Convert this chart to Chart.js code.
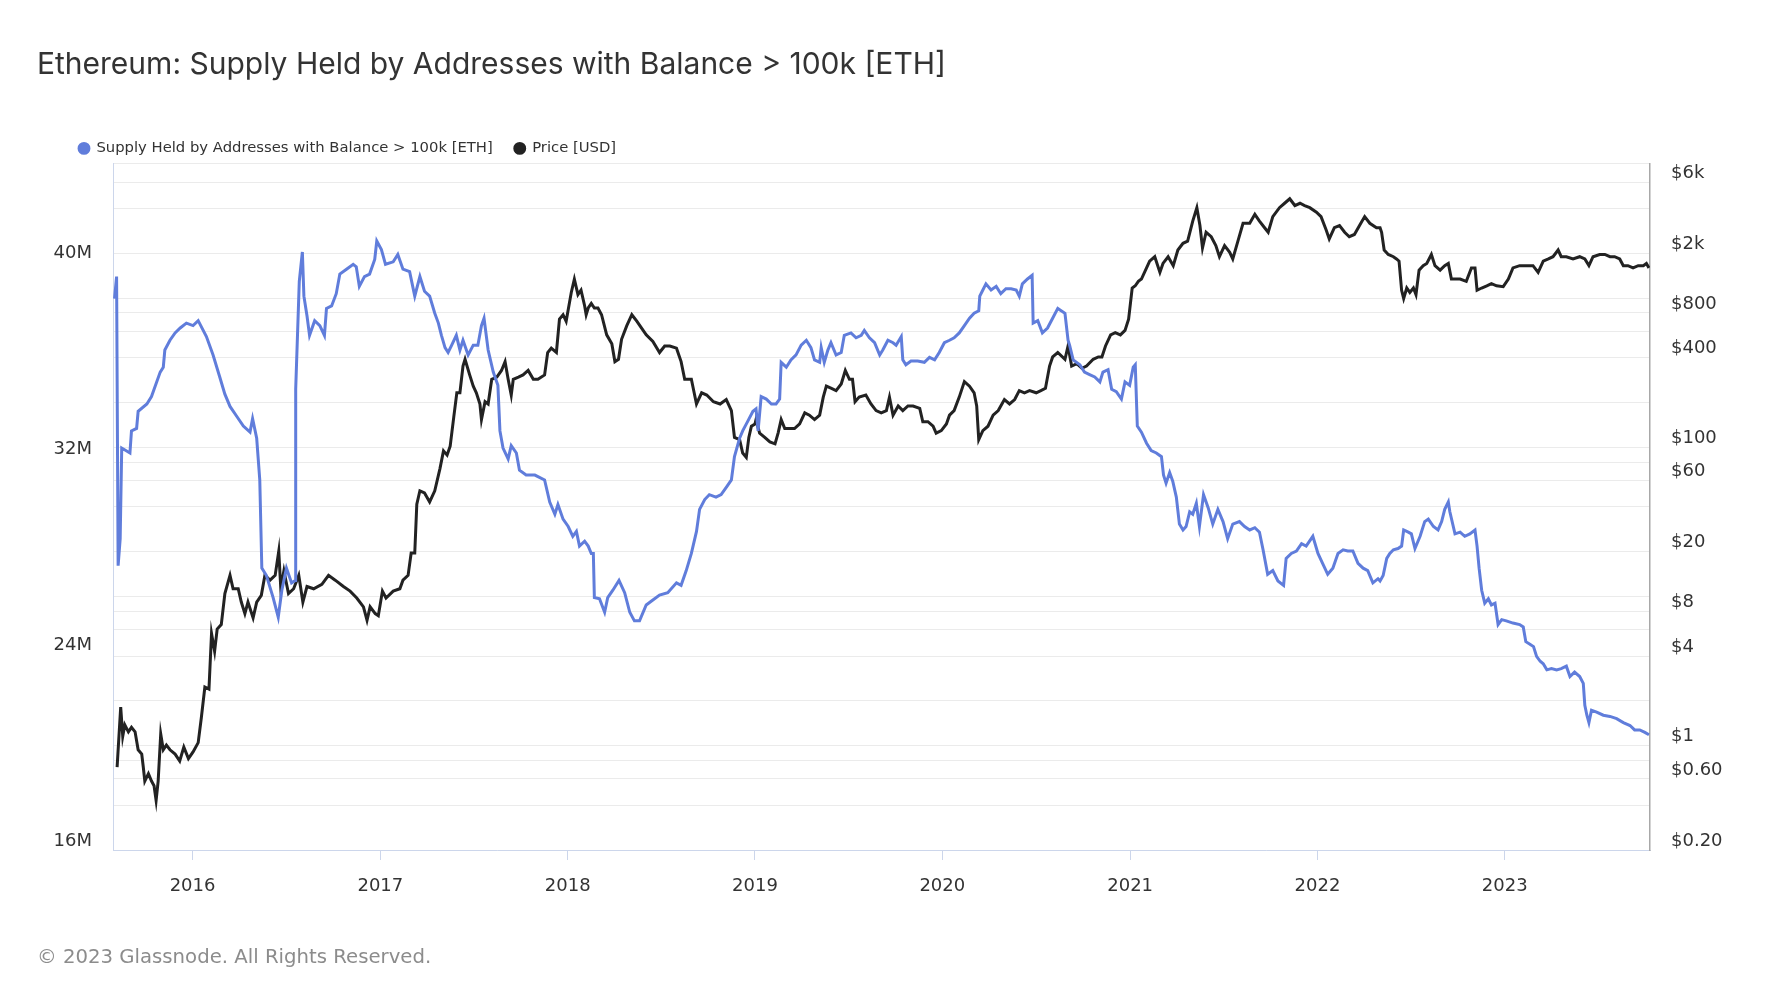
<!DOCTYPE html>
<html>
<head>
<meta charset="utf-8">
<title>Ethereum: Supply Held by Addresses with Balance > 100k [ETH]</title>
<script src="https://cdn.jsdelivr.net/npm/chart.js@4.4.0/dist/chart.umd.min.js"></script>
<style>
  html, body { margin: 0; padding: 0; background: #fff; }
  #wrap { position: relative; width: 1777px; height: 1000px; overflow: hidden; }
  #chart { position: absolute; left: 0; top: 0; }
  #title {
    position: absolute; left: 37px; top: 45px; line-height: 36px;
    font-family: Inter, "Noto Sans", sans-serif; font-size: 30px; color: #333;
    white-space: nowrap;
  }
  #footer {
    position: absolute; left: 37px; top: 945px; line-height: 24px;
    font-family: "DejaVu Sans", sans-serif; font-size: 19.7px; color: #8c8c8c;
    white-space: nowrap;
  }
</style>
</head>
<body>
<div id="wrap">
  <canvas id="chart" width="1777" height="1000"></canvas>
  <div id="title">Ethereum: Supply Held by Addresses with Balance &gt; 100k [ETH]</div>
  <div id="footer">© 2023 Glassnode. All Rights Reserved.</div>
</div>
<script>
// Supply held by addresses with balance > 100k ETH, in millions of ETH
const supplyDates = [
  '2015-08-02','2015-08-06','2015-08-09','2015-08-13','2015-08-16','2015-09-01','2015-09-04','2015-09-14','2015-09-17','2015-10-04',
  '2015-10-13','2015-10-30','2015-11-05','2015-11-08','2015-11-18','2015-11-28','2015-12-08','2015-12-20','2016-01-02','2016-01-12',
  '2016-01-28','2016-02-10','2016-02-23','2016-03-04','2016-03-14','2016-03-27','2016-04-09','2016-04-22','2016-04-27','2016-05-05',
  '2016-05-11','2016-05-15','2016-05-24','2016-06-06','2016-06-16','2016-06-23','2016-07-02','2016-07-12','2016-07-19','2016-07-20',
  '2016-07-27','2016-08-02','2016-08-05','2016-08-11','2016-08-16','2016-08-26','2016-09-05','2016-09-14','2016-09-18','2016-09-28',
  '2016-10-07','2016-10-14','2016-10-27','2016-11-09','2016-11-15','2016-11-21','2016-12-01','2016-12-11','2016-12-21','2016-12-25',
  '2017-01-03','2017-01-11','2017-01-26','2017-02-04','2017-02-14','2017-02-27','2017-03-09','2017-03-19','2017-03-28','2017-04-07',
  '2017-04-17','2017-04-24','2017-04-30','2017-05-07','2017-05-13','2017-05-20','2017-05-29','2017-06-05','2017-06-11','2017-06-21',
  '2017-07-01','2017-07-10','2017-07-17','2017-07-22','2017-07-30','2017-08-09','2017-08-18','2017-08-22','2017-08-28','2017-09-07',
  '2017-09-13','2017-09-23','2017-09-29','2017-10-12','2017-10-29','2017-11-17','2017-11-27','2017-12-07','2017-12-13','2017-12-23',
  '2018-01-02','2018-01-11','2018-01-18','2018-01-24','2018-02-03','2018-02-10','2018-02-16','2018-02-20','2018-02-22','2018-03-04',
  '2018-03-14','2018-03-20','2018-03-30','2018-04-11','2018-04-22','2018-05-02','2018-05-11','2018-05-21','2018-06-03','2018-06-16',
  '2018-06-29','2018-07-15','2018-08-01','2018-08-10','2018-08-20','2018-08-30','2018-09-09','2018-09-15','2018-09-25','2018-10-04',
  '2018-10-17','2018-10-27','2018-11-06','2018-11-16','2018-11-22','2018-12-02','2018-12-08','2018-12-18','2018-12-28','2019-01-03',
  '2019-01-07','2019-01-13','2019-01-23','2019-02-02','2019-02-11','2019-02-18','2019-02-21','2019-03-03','2019-03-12','2019-03-22',
  '2019-04-01','2019-04-11','2019-04-20','2019-04-27','2019-05-07','2019-05-10','2019-05-16','2019-05-23','2019-05-29','2019-06-08',
  '2019-06-18','2019-06-24','2019-07-07','2019-07-17','2019-07-27','2019-08-02','2019-08-12','2019-08-22','2019-09-01','2019-09-07',
  '2019-09-17','2019-09-27','2019-10-03','2019-10-13','2019-10-16','2019-10-22','2019-11-01','2019-11-14','2019-11-27','2019-12-07',
  '2019-12-17','2019-12-26','2020-01-05','2020-01-15','2020-01-24','2020-02-03','2020-02-13','2020-02-23','2020-03-03','2020-03-12',
  '2020-03-14','2020-03-20','2020-03-26','2020-04-05','2020-04-15','2020-04-24','2020-05-04','2020-05-14','2020-05-24','2020-05-30',
  '2020-06-05','2020-06-15','2020-06-24','2020-06-26','2020-07-05','2020-07-14','2020-07-24','2020-08-03','2020-08-13','2020-08-27',
  '2020-09-02','2020-09-05','2020-09-12','2020-09-25','2020-10-04','2020-10-14','2020-10-24','2020-11-03','2020-11-09','2020-11-19',
  '2020-11-26','2020-12-05','2020-12-15','2020-12-22','2020-12-31','2021-01-07','2021-01-11','2021-01-15','2021-01-23','2021-02-02',
  '2021-02-11','2021-02-21','2021-03-03','2021-03-07','2021-03-12','2021-03-19','2021-03-25','2021-04-01','2021-04-07','2021-04-14',
  '2021-04-20','2021-04-27','2021-05-03','2021-05-10','2021-05-16','2021-05-24','2021-06-02','2021-06-11','2021-06-21','2021-07-01',
  '2021-07-10','2021-07-20','2021-08-02','2021-08-12','2021-08-22','2021-09-01','2021-09-10','2021-09-17','2021-09-26','2021-10-06',
  '2021-10-16','2021-10-27','2021-11-01','2021-11-11','2021-11-21','2021-12-01','2021-12-10','2021-12-23','2022-01-02','2022-01-11',
  '2022-01-21','2022-01-31','2022-02-10','2022-02-20','2022-03-01','2022-03-11','2022-03-21','2022-03-31','2022-04-09','2022-04-19',
  '2022-04-29','2022-05-03','2022-05-09','2022-05-16','2022-05-22','2022-05-29','2022-06-07','2022-06-14','2022-06-18','2022-06-27',
  '2022-07-03','2022-07-10','2022-07-20','2022-07-29','2022-08-05','2022-08-15','2022-08-24','2022-08-31','2022-09-06','2022-09-13',
  '2022-09-16','2022-09-26','2022-10-06','2022-10-15','2022-10-25','2022-11-04','2022-11-08','2022-11-12','2022-11-17','2022-11-23',
  '2022-11-30','2022-12-06','2022-12-13','2022-12-19','2022-12-26','2023-01-04','2023-01-17','2023-01-30','2023-02-06','2023-02-11',
  '2023-02-19','2023-02-26','2023-03-04','2023-03-11','2023-03-17','2023-03-24','2023-04-02','2023-04-12','2023-04-21','2023-05-01',
  '2023-05-08','2023-05-17','2023-05-27','2023-06-03','2023-06-06','2023-06-10','2023-06-14','2023-06-19','2023-06-29','2023-07-12',
  '2023-07-25','2023-08-07','2023-08-20','2023-09-02','2023-09-11','2023-09-21','2023-10-01','2023-10-09'
];
const supplyValues = [
  38.5,39.4,27.6,28.7,32.4,32.2,33.1,33.2,33.9,34.2,
  34.5,35.5,35.7,36.4,36.8,37.1,37.3,37.5,37.4,37.6,
  36.95,36.2,35.3,34.6,34.1,33.7,33.3,33.05,33.6,32.8,
  31.1,27.5,27.2,26.3,25.5,26.6,27.5,26.9,27.0,34.8,
  39.2,40.4,38.6,37.8,37.0,37.6,37.4,37.0,38.1,38.2,
  38.7,39.5,39.7,39.9,39.8,39.0,39.4,39.5,40.1,40.85,
  40.5,39.9,40.0,40.3,39.7,39.6,38.6,39.4,38.8,38.6,
  37.9,37.5,37.0,36.5,36.3,36.6,37.0,36.4,36.8,36.2,
  36.6,36.6,37.4,37.7,36.4,35.5,34.96,33.1,32.4,31.96,
  32.5,32.2,31.5,31.3,31.3,31.1,30.2,29.7,30.1,29.5,
  29.2,28.8,29.0,28.4,28.6,28.4,28.1,28.1,26.3,26.25,
  25.7,26.3,26.6,27.0,26.5,25.7,25.35,25.35,26.0,26.2,
  26.4,26.5,26.9,26.8,27.4,28.1,29.0,29.9,30.3,30.5,
  30.4,30.5,30.8,31.1,32.05,32.8,33.1,33.5,33.9,34.0,
  33.1,34.5,34.4,34.2,34.2,34.4,35.9,35.7,36.0,36.2,
  36.6,36.8,36.5,36.0,35.9,36.5,35.9,36.4,36.7,36.2,
  36.3,37.0,37.1,36.9,37.0,37.2,36.9,36.7,36.2,36.4,
  36.8,36.7,36.6,36.95,36.0,35.8,35.95,35.95,35.9,36.1,
  36.0,36.3,36.7,36.8,36.9,37.1,37.4,37.7,37.9,38.0,
  38.6,38.85,39.1,38.85,39.0,38.7,38.9,38.9,38.85,38.6,
  39.1,39.3,39.45,37.5,37.6,37.1,37.3,37.7,38.1,37.9,
  36.8,36.6,36.0,35.8,35.5,35.4,35.3,35.1,35.5,35.6,
  34.8,34.7,34.4,35.1,34.96,35.7,35.8,33.3,33.05,32.6,
  32.3,32.2,32.05,31.3,30.97,31.4,31.05,30.4,29.3,29.06,
  29.2,29.8,29.7,30.15,29.2,30.5,29.97,29.3,29.9,29.4,
  28.7,29.3,29.4,29.2,29.06,29.15,28.97,28.25,27.25,27.4,
  26.98,26.8,27.9,28.1,28.2,28.5,28.4,28.8,28.1,27.7,
  27.25,27.5,28.1,28.25,28.2,28.2,27.7,27.5,27.4,26.9,
  27.07,26.98,27.2,27.9,28.1,28.25,28.3,28.4,29.06,28.97,
  28.9,28.3,28.8,29.4,29.5,29.2,29.06,29.4,29.9,30.2,
  29.8,28.9,28.97,28.8,28.9,29.06,28.4,27.5,26.6,26.07,
  26.25,26.0,26.07,25.2,25.4,25.35,25.26,25.2,25.1,24.5,
  24.4,24.3,23.9,23.7,23.6,23.35,23.4,23.35,23.4,23.5,
  23.08,23.26,23.08,22.8,21.9,21.5,21.2,21.7,21.63,21.5,
  21.45,21.36,21.2,21.08,20.9,20.9,20.8,20.7
];

// ETH price in USD
const priceDates = [
  '2015-08-07','2015-08-14','2015-08-18','2015-08-22','2015-08-29','2015-09-04','2015-09-11','2015-09-17','2015-09-24','2015-09-27',
  '2015-09-30','2015-10-07','2015-10-13','2015-10-18','2015-10-22','2015-10-26','2015-10-31','2015-11-05','2015-11-11','2015-11-18',
  '2015-11-28','2015-12-07','2015-12-15','2015-12-24','2016-01-02','2016-01-12','2016-01-18','2016-01-25','2016-02-02','2016-02-07',
  '2016-02-13','2016-02-18','2016-02-26','2016-03-04','2016-03-14','2016-03-20','2016-03-30','2016-04-05','2016-04-12','2016-04-18',
  '2016-04-28','2016-05-05','2016-05-14','2016-05-21','2016-05-31','2016-06-10','2016-06-17','2016-06-21','2016-06-27','2016-07-06',
  '2016-07-16','2016-07-26','2016-08-03','2016-08-11','2016-08-24','2016-09-09','2016-09-22','2016-10-05','2016-10-21','2016-11-03',
  '2016-11-16','2016-11-29','2016-12-06','2016-12-12','2016-12-22','2016-12-28','2017-01-05','2017-01-12','2017-01-26','2017-02-08',
  '2017-02-14','2017-02-24','2017-03-02','2017-03-09','2017-03-13','2017-03-19','2017-03-28','2017-04-07','2017-04-17','2017-04-27',
  '2017-05-04','2017-05-11','2017-05-17','2017-05-24','2017-05-30','2017-06-05','2017-06-11','2017-06-15','2017-06-24','2017-07-01',
  '2017-07-07','2017-07-14','2017-07-17','2017-07-24','2017-07-30','2017-08-06','2017-08-16','2017-08-25','2017-09-01','2017-09-07',
  '2017-09-13','2017-09-17','2017-09-27','2017-10-06','2017-10-16','2017-10-26','2017-11-04','2017-11-17','2017-11-23','2017-11-30',
  '2017-12-10','2017-12-16','2017-12-23','2017-12-29','2018-01-08','2018-01-14','2018-01-21','2018-01-27','2018-02-03','2018-02-06',
  '2018-02-10','2018-02-16','2018-02-22','2018-03-01','2018-03-08','2018-03-18','2018-03-28','2018-04-03','2018-04-10','2018-04-16',
  '2018-04-26','2018-05-06','2018-05-16','2018-05-25','2018-06-03','2018-06-16','2018-06-29','2018-07-09','2018-07-19','2018-08-01',
  '2018-08-10','2018-08-17','2018-08-30','2018-09-09','2018-09-19','2018-09-29','2018-10-12','2018-10-25','2018-11-06','2018-11-16',
  '2018-11-22','2018-12-02','2018-12-08','2018-12-15','2018-12-20','2018-12-25','2019-01-01','2019-01-03','2019-01-10','2019-01-20',
  '2019-01-30','2019-02-09','2019-02-15','2019-02-21','2019-02-28','2019-03-09','2019-03-19','2019-03-29','2019-04-08','2019-04-17',
  '2019-04-27','2019-05-07','2019-05-14','2019-05-20','2019-05-29','2019-06-08','2019-06-18','2019-06-26','2019-07-04','2019-07-10',
  '2019-07-15','2019-07-23','2019-08-05','2019-08-15','2019-08-25','2019-09-04','2019-09-14','2019-09-20','2019-09-27','2019-10-07',
  '2019-10-16','2019-10-26','2019-11-05','2019-11-18','2019-11-24','2019-12-04','2019-12-14','2019-12-20','2019-12-30','2020-01-09',
  '2020-01-15','2020-01-24','2020-02-03','2020-02-13','2020-02-23','2020-03-03','2020-03-08','2020-03-12','2020-03-20','2020-03-30',
  '2020-04-09','2020-04-19','2020-05-01','2020-05-11','2020-05-21','2020-05-30','2020-06-09','2020-06-19','2020-07-02','2020-07-11',
  '2020-07-20','2020-07-28','2020-08-03','2020-08-13','2020-08-27','2020-09-02','2020-09-09','2020-09-19','2020-09-29','2020-10-08',
  '2020-10-21','2020-10-31','2020-11-07','2020-11-14','2020-11-24','2020-12-03','2020-12-13','2020-12-22','2020-12-29','2021-01-05',
  '2021-01-11','2021-01-17','2021-01-23','2021-02-02','2021-02-08','2021-02-18','2021-02-28','2021-03-06','2021-03-16','2021-03-26',
  '2021-04-04','2021-04-14','2021-04-23','2021-05-03','2021-05-11','2021-05-17','2021-05-22','2021-05-29','2021-06-08','2021-06-17',
  '2021-06-24','2021-07-04','2021-07-14','2021-07-20','2021-07-30','2021-08-09','2021-08-22','2021-09-01','2021-09-10','2021-09-20',
  '2021-09-27','2021-10-06','2021-10-19','2021-10-29','2021-11-08','2021-11-18','2021-11-28','2021-12-07','2021-12-17','2021-12-30',
  '2022-01-08','2022-01-18','2022-01-24','2022-02-03','2022-02-13','2022-02-23','2022-03-04','2022-03-14','2022-03-24','2022-04-03',
  '2022-04-13','2022-04-26','2022-05-03','2022-05-06','2022-05-11','2022-05-19','2022-05-29','2022-06-04','2022-06-09','2022-06-14',
  '2022-06-18','2022-06-24','2022-06-30','2022-07-07','2022-07-12','2022-07-18','2022-07-26','2022-08-02','2022-08-11','2022-08-18',
  '2022-08-28','2022-09-06','2022-09-13','2022-09-19','2022-09-26','2022-10-06','2022-10-18','2022-10-28','2022-11-04','2022-11-08',
  '2022-11-17','2022-11-27','2022-12-06','2022-12-16','2022-12-29','2023-01-08','2023-01-17','2023-01-30','2023-02-12','2023-02-25',
  '2023-03-07','2023-03-17','2023-03-27','2023-04-05','2023-04-15','2023-04-21','2023-05-01','2023-05-14','2023-05-27','2023-06-06',
  '2023-06-14','2023-06-22','2023-07-05','2023-07-15','2023-07-25','2023-08-03','2023-08-13','2023-08-20','2023-08-29','2023-09-08',
  '2023-09-18','2023-09-28','2023-10-04','2023-10-09'
];
const priceValues = [
  0.72,1.82,1.16,1.38,1.24,1.33,1.24,0.94,0.88,0.72,
  0.58,0.65,0.58,0.54,0.43,0.58,1.2,0.94,1.01,0.94,
  0.88,0.79,0.98,0.82,0.91,1.05,1.53,2.48,2.4,5.66,
  4.3,6.06,6.5,10.5,13.9,11.3,11.3,9.2,7.7,9.2,
  7.2,9.2,10.2,13.9,12.9,13.9,20.2,11.3,14.9,10.5,
  11.3,13.9,9.2,11.7,11.3,12.1,13.9,12.9,11.7,10.9,
  9.8,8.55,6.95,8.55,7.7,7.45,10.9,9.8,10.9,11.3,
  12.9,13.9,19.6,19.6,41.7,51.3,49.6,43.2,51.3,72,
  95,89,102,160,233,233,352,391,307,258,
  233,196,154,203,196,287,297,329,377,287,
  225,287,297,307,329,287,287,307,434,464,
  434,727,778,702,1097,1349,1060,1135,893,778,
  863,925,863,863,778,570,497,377,391,532,
  655,778,702,632,570,514,434,480,480,464,
  377,287,287,196,233,225,203,196,210,177,
  117,113,92,86,117,139,144,154,125,117,
  109,106,125,154,134,134,134,144,171,165,
  154,165,218,258,250,241,267,329,287,287,
  203,218,225,196,177,171,177,218,165,190,
  177,190,190,183,149,149,139,125,130,144,
  165,177,218,277,258,233,190,113,130,139,
  165,177,210,196,210,241,233,241,233,241,
  250,352,405,434,391,480,352,365,340,352,
  391,405,405,480,570,590,570,611,727,1175,
  1216,1303,1349,1603,1778,1905,1496,1718,1905,1660,
  2113,2344,2423,3304,4062,3084,2185,2780,2594,2260,
  1905,2260,2037,1840,2423,3193,3193,3665,3304,2980,
  2780,3540,4062,4350,4660,4200,4350,4200,4062,3793,
  3540,2877,2506,2980,3084,2780,2594,2685,3084,3540,
  3193,2980,2980,2780,2113,1972,1905,1840,1778,1135,
  1000,1175,1097,1175,1060,1549,1660,1718,1972,1660,
  1549,1660,1718,1349,1349,1349,1303,1603,1603,1135,
  1175,1216,1259,1216,1200,1349,1603,1660,1660,1660,
  1496,1778,1840,1905,2113,1905,1905,1840,1905,1840,
  1660,1905,1972,1972,1905,1905,1840,1660,1660,1603,
  1660,1660,1718,1603
];

// axis ticks
const yearTicks = [2016, 2017, 2018, 2019, 2020, 2021, 2022, 2023];
const supplyTicks = [16, 24, 32, 40];
const priceGrid = [0.2, 0.4, 0.6, 0.8, 1, 2, 4, 6, 8, 10, 20, 40, 60, 80, 100, 200, 400, 600, 800, 1000, 2000, 4000, 6000, 8000];
const priceLabelled = [0.2, 0.6, 1, 4, 8, 20, 60, 100, 400, 800, 2000, 6000];

const xMin = Date.UTC(2015, 6, 30);
const xMax = Date.UTC(2023, 9, 11);

function toPoints(dates, values) {
  return dates.map((d, i) => ({ x: Date.parse(d), y: values[i] }));
}

function priceLabel(v) {
  if (!priceLabelled.includes(v)) return '';
  if (v >= 1000) return '$' + (v / 1000) + 'k';
  if (v >= 1) return '$' + v;
  return '$' + v.toFixed(2);
}

// move the legend so it sits where the reference puts it
const legendShift = {
  id: 'legendShift',
  afterLayout(chart) {
    if (chart.legend) {
      chart.legend.left = 57;
      chart.legend.top += 2;
    }
  }
};

Chart.defaults.font.family = '"DejaVu Sans", sans-serif';
Chart.defaults.color = '#333';

const ctx = document.getElementById('chart').getContext('2d');
new Chart(ctx, {
  type: 'line',
  data: {
    datasets: [
      {
        label: 'Supply Held by Addresses with Balance > 100k [ETH]',
        data: toPoints(supplyDates, supplyValues),
        yAxisID: 'ySupply',
        borderColor: 'rgb(96, 125, 219)',
        backgroundColor: 'rgb(96, 125, 219)',
        borderWidth: 3,
        pointRadius: 0,
        tension: 0
      },
      {
        label: 'Price [USD]',
        data: toPoints(priceDates, priceValues),
        yAxisID: 'yPrice',
        borderColor: '#222',
        backgroundColor: '#222',
        borderWidth: 3,
        pointRadius: 0,
        tension: 0
      }
    ]
  },
  options: {
    responsive: false,
    animation: false,
    events: [],
    layout: { padding: { top: 117, left: 0, right: 0, bottom: 100 } },
    plugins: {
      tooltip: { enabled: false },
      legend: {
        position: 'top',
        align: 'start',
        labels: {
          usePointStyle: true,
          pointStyle: 'circle',
          boxWidth: 10,
          boxHeight: 7,
          padding: 22,
          color: '#333',
          font: { size: 14.8 }
        }
      }
    },
    scales: {
      x: {
        type: 'linear',
        min: xMin,
        max: xMax,
        afterBuildTicks(scale) {
          scale.ticks = yearTicks.map(y => ({ value: Date.UTC(y, 0, 1) }));
        },
        afterFit(scale) { scale.height = 50; },
        ticks: {
          autoSkip: false,
          maxRotation: 0,
          padding: 16,
          color: '#333',
          font: { size: 18 },
          callback: v => new Date(v).getUTCFullYear()
        },
        grid: { drawOnChartArea: false, drawTicks: true, tickLength: 10, color: '#ccd6eb' },
        border: { display: true, color: '#ccd6eb', width: 1 }
      },
      ySupply: {
        type: 'linear',
        position: 'left',
        min: 16,
        max: 44,
        afterBuildTicks(scale) {
          scale.ticks = supplyTicks.map(v => ({ value: v }));
        },
        afterFit(scale) { scale.width = 113; },
        ticks: {
          autoSkip: false,
          padding: 21,
          labelOffset: -9,
          color: '#333',
          font: { size: 18 },
          callback: v => v + 'M'
        },
        grid: { display: false, drawTicks: false },
        border: { display: true, color: '#ccd6eb', width: 1 }
      },
      yPrice: {
        type: 'logarithmic',
        position: 'right',
        min: 0.2,
        max: 8000,
        afterBuildTicks(scale) {
          scale.ticks = priceGrid.map(v => ({ value: v }));
        },
        afterFit(scale) { scale.width = 127; },
        ticks: {
          autoSkip: false,
          padding: 21,
          labelOffset: -9,
          color: '#333',
          font: { size: 18 },
          callback: v => priceLabel(v)
        },
        grid: { display: true, drawTicks: false, color: '#ebebeb', lineWidth: 1 },
        border: { display: true, color: '#a8a8a8', width: 1.5 }
      }
    }
  },
  plugins: [legendShift]
});
</script>
</body>
</html>
